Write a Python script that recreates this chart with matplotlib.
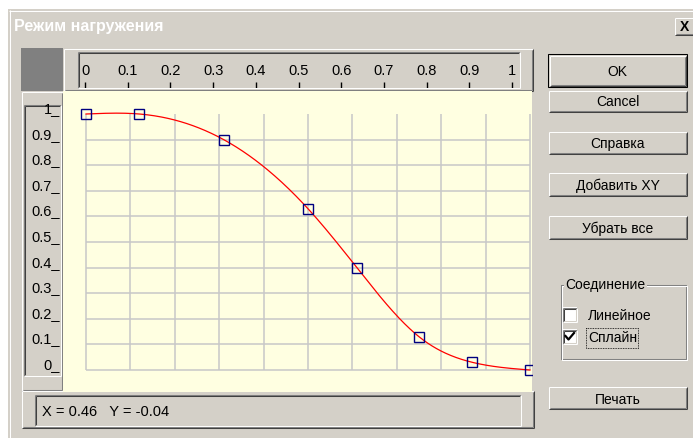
import numpy as np
import matplotlib
matplotlib.use('Agg')
import matplotlib.pyplot as plt
from matplotlib.patches import Rectangle
from matplotlib.colors import LinearSegmentedColormap
from matplotlib import transforms

W, H = 693, 439

# points of the loading curve
pts_x = [0.0, 0.12, 0.31, 0.50, 0.61, 0.75, 0.87, 1.0]
pts_y = [1.0, 1.0, 0.90, 0.63, 0.40, 0.13, 0.03, 0.0]

x_ticks = [0, 0.1, 0.2, 0.3, 0.4, 0.5, 0.6, 0.7, 0.8, 0.9, 1.0]
x_labels = ['0', '0.1', '0.2', '0.3', '0.4', '0.5', '0.6', '0.7', '0.8', '0.9', '1']
y_ticks = [1.0, 0.9, 0.8, 0.7, 0.6, 0.5, 0.4, 0.3, 0.2, 0.1, 0]
y_labels = ['1', '0.9', '0.8', '0.7', '0.6', '0.5', '0.4', '0.3', '0.2', '0.1', '0']

title = 'Режим нагружения'
buttons = ['OK', 'Cancel', 'Справка', 'Добавить XY', 'Убрать все', 'Печать']
group_title = 'Соединение'
options = ['Линейное', 'Сплайн']
checked = [False, True]
status = 'X = 0.46   Y = -0.04'

FACE = '#d4d0c8'
SHADOW = '#808080'
DARK = '#404040'
PLOTBG = '#ffffe1'
GRID = '#c8c8c8'
SANS = ['Liberation Sans', 'DejaVu Sans']

plt.rcParams['font.family'] = SANS


def spline(x, y, xs):
    # natural cubic spline
    x = np.asarray(x, float)
    y = np.asarray(y, float)
    n = len(x)
    h = np.diff(x)
    A = np.zeros((n, n))
    r = np.zeros(n)
    A[0, 0] = A[-1, -1] = 1
    for i in range(1, n - 1):
        A[i, i - 1] = h[i - 1]
        A[i, i] = 2 * (h[i - 1] + h[i])
        A[i, i + 1] = h[i]
        r[i] = 6 * ((y[i + 1] - y[i]) / h[i] - (y[i] - y[i - 1]) / h[i - 1])
    M = np.linalg.solve(A, r)
    k = np.clip(np.searchsorted(x, xs) - 1, 0, n - 2)
    t0 = x[k + 1] - xs
    t1 = xs - x[k]
    hk = h[k]
    return ((M[k] * t0 ** 3 + M[k + 1] * t1 ** 3) / (6 * hk)
            + (y[k] / hk - M[k] * hk / 6) * t0
            + (y[k + 1] / hk - M[k + 1] * hk / 6) * t1)


fig = plt.figure(figsize=(W / 100, H / 100), dpi=100)
fig.patch.set_facecolor('white')


def px_axes(x0, y0, x1, y1):
    return fig.add_axes([x0 / W, 1 - y1 / H, (x1 - x0) / W, (y1 - y0) / H])


bg = px_axes(0, 0, W, H)
bg.set_xlim(0, W)
bg.set_ylim(H, 0)
bg.axis('off')


def line(xs, ys, c, lw=0.75, ls='-'):
    bg.plot(xs, ys, color=c, lw=lw, ls=ls, solid_capstyle='butt')


def box(x0, y0, x1, y1, sunken=False, fill=None):
    if fill:
        bg.add_patch(Rectangle((x0, y0), x1 - x0, y1 - y0, color=fill, lw=0))
    a, b = x0 + 0.5, x1 - 0.5
    c, d = y0 + 0.5, y1 - 0.5
    if sunken:
        tl1, tl2, br1, br2 = SHADOW, DARK, 'white', FACE
    else:
        tl1, tl2, br1, br2 = 'white', FACE, DARK, SHADOW
    line([a, b], [c, c], tl1)
    line([a, a], [c, d], tl1)
    line([a, b], [d, d], br1)
    line([b, b], [c, d], br1)
    line([a + 1, b - 1], [c + 1, c + 1], tl2)
    line([a + 1, a + 1], [c + 1, d - 1], tl2)
    line([a + 1, b - 1], [d - 1, d - 1], br2)
    line([b - 1, b - 1], [c + 1, d - 1], br2)


# dialog body
bg.add_patch(Rectangle((8, 10), W - 8, H - 10, color=FACE, lw=0))
line([9.5, 9.5], [11, H], 'white')
line([9, W], [11.5, 11.5], 'white')

# title bar
grad = np.linspace(0, 1, 256).reshape(1, -1)
cmap = LinearSegmentedColormap.from_list('tb', ['#0a246a', '#a6caf0'])
bg.imshow(grad, extent=[12, W, 39, 13], aspect='auto', cmap=cmap)
bg.set_xlim(0, W)
bg.set_ylim(H, 0)
bg.text(14, 26.5, title, color='white', fontsize=11.5, fontweight='bold',
        va='center', ha='left')
box(674, 18, W + 2, 36, fill=FACE)
bg.text(684, 27, 'X', fontsize=10, fontweight='bold', ha='center', va='center')

# chart frame pieces
bg.add_patch(Rectangle((21, 49), 42, 43, color=SHADOW, lw=0))
box(63, 49, 533, 92)
box(77, 52, 520, 89, sunken=True)
box(21, 92, 63, 393)
box(23, 105, 61, 377, sunken=True)
box(21, 392, 534, 430)
box(34, 396, 521, 428, sunken=True)
bg.text(42, 412, status, fontsize=10.5, ha='left', va='center')

# buttons
btn_rows = [(55, 88), (91, 113), (132, 155), (173, 197), (216, 240), (388, 411)]
for name, (t, b) in zip(buttons, btn_rows):
    if name == 'OK':
        bg.add_patch(Rectangle((548, t), 139, b - t, fill=False, ec='black', lw=0.75))
        box(549, t + 1, 686, b - 1, fill=FACE)
    else:
        box(548, t, 687, b, fill=FACE)
    bg.text(617.5, (t + b) / 2 + 0.5, name, fontsize=10, ha='center', va='center')

# group box
for off, c in [(0, SHADOW), (1, 'white')]:
    x0, x1, y0, y1 = 560.5 + off, 685.5 + off, 285.5 + off, 359.5 + off
    line([x0, x1, x1, x0, x0], [y0, y0, y1, y1, y0], c)
bg.text(565, 285, group_title, fontsize=10, ha='left', va='center',
        bbox=dict(facecolor=FACE, edgecolor='none', pad=1))
for i, (opt, on) in enumerate(zip(options, checked)):
    t = 308 + 22 * i
    box(562, t, 577, t + 15, sunken=True, fill='white')
    bg.text(588, t + 8, opt, fontsize=10, ha='left', va='center')
    if on:
        bg.plot([565.5, 568.5, 574], [t + 7, t + 10.5, t + 4], color='black', lw=1.6)
        line([585.5, 637.5, 637.5, 585.5, 585.5], [t - 1.5, t - 1.5, t + 18.5, t + 18.5, t - 1.5],
             'black', lw=0.6, ls=(0, (1, 1)))

# main plot area
ax = px_axes(63, 92, 532, 393)
ax.set_facecolor(PLOTBG)
ax.set_xlim((63 - 86) / 444, (532 - 86) / 444)
ax.set_ylim((371 - 393) / 256, (371 - 92) / 256)
ax.set_xticks([])
ax.set_yticks([])
for s in ax.spines.values():
    s.set_visible(False)
ax.vlines(x_ticks, 0, 1, color=GRID, lw=1.1)
ax.hlines([v for v in y_ticks if v < 1], 0, 1, color=GRID, lw=1.1)
xs = np.linspace(pts_x[0], pts_x[-1], 500)
ax.plot(xs, spline(pts_x, pts_y, xs), color='red', lw=0.9)
ax.plot(pts_x, pts_y, 's', mfc='none', mec='#000080', ms=6.5, mew=1.0)

# top ruler
rax = px_axes(77, 52, 520, 89)
rax.set_xlim((77 - 85) / 427, (520 - 85) / 427)
rax.set_ylim(89, 52)
rax.axis('off')
rax.vlines(x_ticks, 83, 89, color='black', lw=1)
for t, lab in zip(x_ticks, x_labels):
    rax.text(t, 71, lab, fontsize=10.5, ha='center', va='center')

# left ruler
lax = px_axes(21, 92, 63, 393)
lax.set_xlim(21, 63)
lax.set_ylim(ax.get_ylim())
lax.axis('off')
tr = transforms.offset_copy(lax.transData, fig=fig, y=2, units='dots')
for v, lab in zip(y_ticks, y_labels):
    lax.text(60, v, lab + '_', fontsize=10.5, ha='right',
             va='baseline', transform=tr)

fig.savefig('out.png', dpi=100)
